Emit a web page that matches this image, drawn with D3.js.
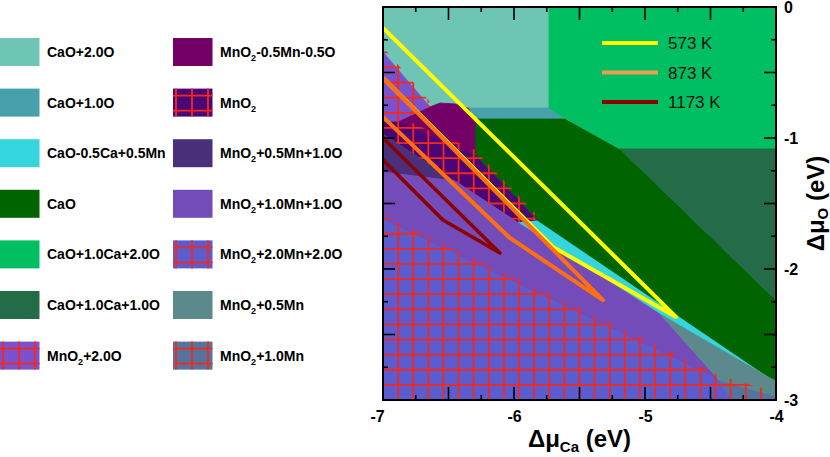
<!DOCTYPE html>
<html>
<head>
<meta charset="utf-8">
<script src="https://cdnjs.cloudflare.com/ajax/libs/d3/7.8.5/d3.min.js"></script>
<style>
body { margin:0; background:#fff; }
svg { display:block; font-family:"Liberation Sans", Arial, sans-serif; }
</style>
</head>
<body>
<div id="visualisation"></div>
<script>
// phase names, legend order (left column then right column)
var phaseNames = ['CaO+2.0O', 'CaO+1.0O', 'CaO-0.5Ca+0.5Mn', 'CaO', 'CaO+1.0Ca+2.0O', 'CaO+1.0Ca+1.0O', 'MnO2+2.0O',
    'MnO2-0.5Mn-0.5O', 'MnO2', 'MnO2+0.5Mn+1.0O', 'MnO2+1.0Mn+1.0O', 'MnO2+2.0Mn+2.0O', 'MnO2+0.5Mn', 'MnO2+1.0Mn'];

// stability regions as [dMu_Ca, dMu_O] corners (eV)
var cao2O = [[-7, 0], [-5.733, 0], [-5.733, -0.771], [-6.351, -0.771], [-6.450, -0.740], [-6.565, -0.733], [-6.641, -0.763], [-7, -0.344]];
var cao1O = [[-6.351, -0.771], [-5.733, -0.771], [-5.603, -0.855], [-6.298, -0.855]];
var caoMn = [[-5.977, -1.641], [-5.824, -1.626], [-4.046, -2.832], [-4.885, -2.344]];
var cao = [[-6.298, -0.855], [-5.603, -0.855], [-5.191, -1.084], [-4, -2.237], [-4, -2.855], [-4.046, -2.832], [-5.824, -1.626], [-6.298, -1.130]];
var cao1Ca2O = [[-5.733, 0], [-4, 0], [-4, -1.084], [-5.191, -1.084], [-5.603, -0.855], [-5.733, -0.771]];
var cao1Ca1O = [[-5.191, -1.084], [-4, -1.084], [-4, -2.237]];
var mno22O = [[-7, -0.344], [-6.641, -0.763], [-6.885, -0.878], [-7, -0.878]];
var mno2Less = [[-6.885, -0.878], [-6.641, -0.763], [-6.565, -0.733], [-6.450, -0.740], [-6.351, -0.771], [-6.298, -0.855], [-6.298, -1.130]];
var mno2 = [[-7, -0.878], [-6.885, -0.878], [-6.298, -1.130], [-5.824, -1.626], [-5.977, -1.641], [-6.450, -1.328], [-7, -0.969]];
var mno2Mn05O1 = [[-7, -0.969], [-6.450, -1.328], [-7, -1.260]];
var mno2Mn1O1 = [[-7, -1.260], [-6.450, -1.328], [-5.977, -1.641], [-4.885, -2.344], [-4.427, -2.855], [-7, -1.626]];
var mno2Mn2O2 = [[-7, -1.626], [-4.427, -2.855], [-4.336, -3], [-7, -3]];
var mno2Mn05 = [[-4.885, -2.344], [-4.046, -2.832], [-4, -2.855], [-4, -2.977], [-4.427, -2.855]];
var mno2Mn1 = [[-4.427, -2.855], [-4, -2.977], [-4, -3], [-4.336, -3]];

var phasePolys = [cao2O, cao1O, caoMn, cao, cao1Ca2O, cao1Ca1O, mno22O,
    mno2Less, mno2, mno2Mn05O1, mno2Mn1O1, mno2Mn2O2, mno2Mn05, mno2Mn1];

// temperature boundaries (upper edge -> tip -> lower edge)
var temps = ['573 K', '873 K', '1173 K'];
var line573 = [[-7, -0.160], [-4.763, -2.366], [-5.702, -1.832], [-7, -0.542]];
var line873 = [[-7, -0.542], [-5.321, -2.237], [-6.031, -1.763], [-7, -0.840]];
var line1173 = [[-7, -1.0], [-6.107, -1.878], [-6.542, -1.626], [-7, -1.168]];
var tempLines = [line573, line873, line1173];

var xTicks = [-7, -6, -5, -4];
var yTicks = [0, -1, -2, -3];

// styles
var phaseColors = ['#6EC5B3', '#46A1AC', '#35D5DE', '#006400', '#00BF63', '#246B47', '#7B52CE',
    '#730067', '#4B0575', '#4A2F7A', '#744CBA', '#5A5CD0', '#5C8A8C', '#5474A0'];
var phaseHatch = [false, false, false, false, false, false, true,
    false, true, false, false, true, false, true];
var tempColors = ['#FFFF00', '#FF6F10', '#8B0000'];
var tempLegendColors = ['#FFFF00', '#EE9C4E', '#8B0000'];
var gridRed = '#F82818';

var dims = { W: 830, H: 457, left: 383, right: 776, top: 7, bottom: 400 };

function drawChart() {
    var x = d3.scaleLinear().domain([-7, -4]).range([dims.left, dims.right]);
    var y = d3.scaleLinear().domain([0, -3]).range([dims.top, dims.bottom]);
    var line = d3.line().x(function(d) { return x(d[0]); }).y(function(d) { return y(d[1]); });
    var poly = function(p) { return line(p) + 'Z'; };

    var svg = d3.select('#visualisation').append('svg')
        .attr('width', dims.W)
        .attr('height', dims.H);
    svg.append('rect').attr('width', dims.W).attr('height', dims.H).attr('fill', '#fff');
    var defs = svg.append('defs');
    defs.append('clipPath').attr('id', 'plotClip')
        .append('rect')
        .attr('x', dims.left).attr('y', dims.top)
        .attr('width', dims.right - dims.left).attr('height', dims.bottom - dims.top);

    var plot = svg.append('g').attr('clip-path', 'url(#plotClip)');

    // filled regions
    phasePolys.forEach(function(p, i) {
        plot.append('path')
            .attr('d', poly(p))
            .attr('fill', phaseColors[i])
            .attr('stroke', phaseColors[i])
            .attr('stroke-width', 0.8)
            .attr('stroke-linejoin', 'round');
    });

    // red grid hatch on some regions (lines poke a bit out of the region)
    var gridStep = 3 / 26;
    var gridXs = d3.range(1, 26).map(function(k) { return -7 + k * gridStep; });
    var gridYs = d3.range(1, 26).map(function(k) { return -k * gridStep; });
    phasePolys.forEach(function(p, i) {
        if (!phaseHatch[i]) return;
        var cid = 'hatch' + i;
        var cp = defs.append('clipPath').attr('id', cid);
        cp.append('path').attr('d', poly(p));
        cp.append('path').attr('d', poly(p)).attr('transform', 'translate(0,-5)');
        var g = plot.append('g').attr('clip-path', 'url(#' + cid + ')')
            .attr('stroke', gridRed).attr('stroke-width', 1.8);
        gridXs.forEach(function(v) {
            g.append('line').attr('x1', x(v)).attr('x2', x(v)).attr('y1', dims.top).attr('y2', dims.bottom);
        });
        gridYs.forEach(function(v) {
            g.append('line').attr('y1', y(v)).attr('y2', y(v)).attr('x1', dims.left).attr('x2', dims.right);
        });
    });

    // temperature wedges
    tempLines.forEach(function(p, i) {
        plot.append('path')
            .attr('d', line(p))
            .attr('fill', 'none')
            .attr('stroke', tempColors[i])
            .attr('stroke-width', i == 2 ? 3.5 : 4)
            .attr('stroke-linejoin', 'round');
    });

    // temperature legend inside the plot
    temps.forEach(function(t, i) {
        var ly = 43 + i * 29.5;
        svg.append('line')
            .attr('x1', 602).attr('x2', 658).attr('y1', ly).attr('y2', ly)
            .attr('stroke', tempLegendColors[i]).attr('stroke-width', 4);
        svg.append('text')
            .attr('x', 668).attr('y', ly + 6)
            .attr('font-size', 17)
            .attr('fill', '#111')
            .text(t);
    });

    // ticks: major every 0.5, minor every 0.25, all inward on four sides
    var major = d3.range(0, 7).map(function(k) { return -7 + k * 0.5; });
    var minor = d3.range(0, 6).map(function(k) { return -6.75 + k * 0.5; });
    var majorY = d3.range(0, 7).map(function(k) { return -k * 0.5; });
    var minorY = d3.range(0, 6).map(function(k) { return -0.25 - k * 0.5; });
    var tk = svg.append('g').attr('stroke', '#000').attr('stroke-width', 1.6);
    function tickSet(vals, len) {
        vals.forEach(function(v) {
            tk.append('line').attr('x1', x(v)).attr('x2', x(v)).attr('y1', dims.bottom).attr('y2', dims.bottom - len);
            tk.append('line').attr('x1', x(v)).attr('x2', x(v)).attr('y1', dims.top).attr('y2', dims.top + len);
        });
    }
    function tickSetY(vals, len) {
        vals.forEach(function(v) {
            tk.append('line').attr('y1', y(v)).attr('y2', y(v)).attr('x1', dims.left).attr('x2', dims.left + len);
            tk.append('line').attr('y1', y(v)).attr('y2', y(v)).attr('x1', dims.right).attr('x2', dims.right - len);
        });
    }
    tickSet(major, 13);
    tickSet(minor, 5);
    tickSetY(majorY, 12);
    tickSetY(minorY, 5);

    // frame
    svg.append('rect')
        .attr('x', dims.left).attr('y', dims.top)
        .attr('width', dims.right - dims.left).attr('height', dims.bottom - dims.top)
        .attr('fill', 'none').attr('stroke', '#000').attr('stroke-width', 2);

    // tick labels through axes
    var xAxis = svg.append('g')
        .attr('transform', 'translate(0,' + dims.bottom + ')')
        .call(d3.axisBottom(x).tickValues(xTicks).tickSize(0).tickPadding(11)
            .tickFormat(function(d) { return String(d); }));
    var yAxis = svg.append('g')
        .attr('transform', 'translate(' + dims.right + ',0)')
        .call(d3.axisRight(y).tickValues(yTicks).tickSize(0).tickPadding(8)
            .tickFormat(function(d) { return String(d); }));
    [xAxis, yAxis].forEach(function(a) {
        a.select('.domain').remove();
        a.selectAll('text')
            .attr('font-family', '"Liberation Sans", Arial, sans-serif')
            .attr('font-size', 16).attr('font-weight', 'bold').attr('fill', '#000');
    });
    // first x label sits a little left of its tick, as in the original
    xAxis.selectAll('text').filter(function(d) { return d == -7; }).attr('dx', -6);

    // axis titles
    var xt = svg.append('text')
        .attr('x', (dims.left + dims.right) / 2).attr('y', 447)
        .attr('text-anchor', 'middle')
        .attr('font-size', 24).attr('font-weight', 'bold');
    xt.append('tspan').text('\u0394\u03bc');
    xt.append('tspan').attr('font-size', 15).attr('dy', 5).text('Ca');
    xt.append('tspan').attr('dy', -5).text(' (eV)');

    var yt = svg.append('text')
        .attr('transform', 'translate(824,' + (dims.top + dims.bottom) / 2 + ') rotate(-90)')
        .attr('text-anchor', 'middle')
        .attr('font-size', 24).attr('font-weight', 'bold');
    yt.append('tspan').text('\u0394\u03bc');
    yt.append('tspan').attr('font-size', 15).attr('dy', 4).text('O');
    yt.append('tspan').attr('dy', -4).text(' (eV)');

    // phase legend, two columns of seven
    phaseNames.forEach(function(name, i) {
        var col = Math.floor(i / 7), row = i % 7;
        var sx = col == 0 ? 0 : 173;
        var cy = 52 + row * 50.6;
        svg.append('rect')
            .attr('x', sx).attr('y', cy - 14)
            .attr('width', 39.5).attr('height', 28)
            .attr('fill', phaseColors[i]);
        if (phaseHatch[i]) {
            [3, 19, 35].forEach(function(o) {
                svg.append('line').attr('x1', sx + o).attr('x2', sx + o).attr('y1', cy - 14).attr('y2', cy + 14)
                    .attr('stroke', gridRed).attr('stroke-width', 1.8);
            });
            [-7, 8].forEach(function(o) {
                svg.append('line').attr('x1', sx).attr('x2', sx + 39.5).attr('y1', cy + o).attr('y2', cy + o)
                    .attr('stroke', gridRed).attr('stroke-width', 1.8);
            });
        }
        var t = svg.append('text')
            .attr('x', sx + 47).attr('y', cy + 5)
            .attr('font-size', 14).attr('font-weight', 'bold');
        if (name.indexOf('MnO2') == 0) {
            t.append('tspan').text('MnO');
            t.append('tspan').attr('font-size', 9).attr('dy', 4).text('2');
            t.append('tspan').attr('dy', -4).text(name.slice(4));
        } else {
            t.text(name);
        }
    });
}

drawChart();
</script>
</body>
</html>
